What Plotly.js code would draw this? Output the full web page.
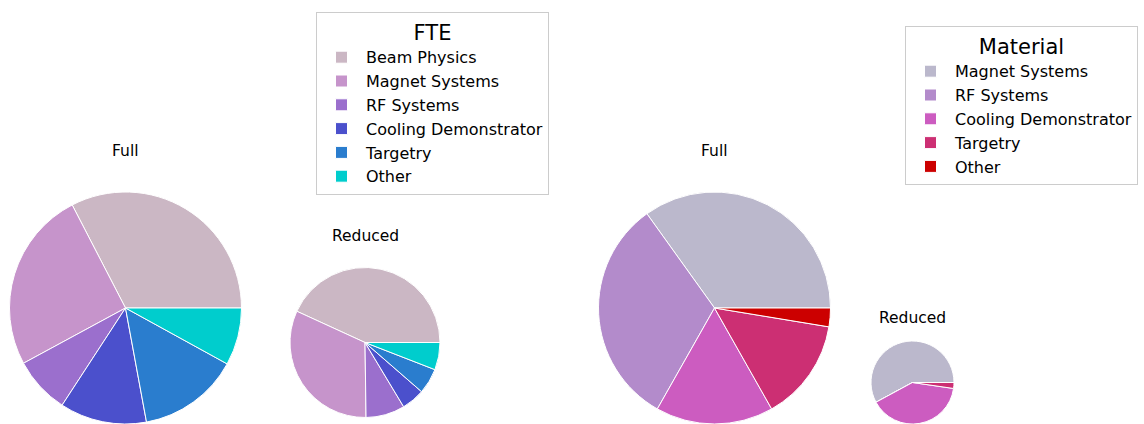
<!DOCTYPE html>
<html>
<head>
<meta charset="utf-8">
<script src="https://cdn.plot.ly/plotly-3.0.1.min.js"></script>
<style>
html,body{margin:0;padding:0;background:#fff;}
#wrap{position:relative;width:1144px;height:424px;overflow:hidden;}
#fte{position:absolute;left:0;top:0;width:580px;height:424px;}
#mat{position:absolute;left:580px;top:0;width:564px;height:424px;}
</style>
</head>
<body>
<div id="wrap"><div id="fte"></div><div id="mat"></div></div>
<script>
// ---- data ----
const fteLabels = ["Beam Physics", "Magnet Systems", "RF Systems", "Cooling Demonstrator", "Targetry", "Other"];
const fteFull = [32.6, 25.3, 7.9, 12.1, 14.1, 8.0];
const fteReduced = [43.2, 32.1, 8.4, 5.0, 5.5, 5.9];
const fteColors = ["#cbb7c4", "#c694cb", "#9b6fcd", "#4b50cc", "#2a7dce", "#00cdcd"];

const matLabels = ["Magnet Systems", "RF Systems", "Cooling Demonstrator", "Targetry", "Other"];
const matFull = [34.9, 31.9, 16.4, 14.2, 2.6];
const matReduced = [57.9, 0, 39.8, 2.3, 0];
const matColors = ["#bbb8cc", "#b38bcb", "#cc5cc0", "#cc2f73", "#cc0000"];

const pieTitles = ["Full", "Reduced"];
const legendTitles = ["FTE", "Material"];

// ---- layout helpers ----
const H = 424;
const FONT = "DejaVu Sans, Verdana, sans-serif";

function dom(W, cx, cy, r) {
  return {x: [(cx - r) / W, (cx + r) / W], y: [Math.max(0, (H - cy - r) / H), Math.min(1, (H - cy + r) / H)]};
}

// matplotlib-style: first wedge starts at 3 o'clock and wedges run counterclockwise
function startRotation(values) {
  const total = values.reduce((a, b) => a + b, 0);
  return 90 - 360 * values[0] / total;
}

function pie(labels, values, colors, domain) {
  return {
    type: "pie", labels: labels, values: values, sort: false,
    direction: "counterclockwise", rotation: startRotation(values),
    textinfo: "none", hoverinfo: "label+percent",
    marker: {colors: colors, line: {color: "#ffffff", width: 1}},
    domain: domain, showlegend: true
  };
}

function titles(W, pos) {
  return pieTitles.map((t, i) => ({
    text: t, showarrow: false, xref: "paper", yref: "paper",
    x: pos[i][0] / W, y: 1 - pos[i][1] / H, xanchor: "center", yanchor: "middle",
    font: {family: FONT, size: 15.5, color: "#000000"}
  }));
}

function legendBox(W, title, left, top) {
  return {
    title: {text: title, side: "top center", font: {family: FONT, size: 21, color: "#000"}},
    x: left / W, y: 1 - top / H, xanchor: "left", yanchor: "top",
    bgcolor: "rgba(255,255,255,0.8)", bordercolor: "#cccccc", borderwidth: 1,
    font: {family: FONT, size: 16, color: "#000"}, itemwidth: 39, traceorder: "normal",
    itemclick: false, itemdoubleclick: false
  };
}

function baseLayout(W, ann, legend) {
  return {
    width: W, height: H,
    margin: {l: 0, r: 0, t: 0, b: 0, pad: 0},
    paper_bgcolor: "#ffffff", plot_bgcolor: "#ffffff",
    font: {family: FONT, size: 16, color: "#000"},
    showlegend: true,
    annotations: ann, legend: legend
  };
}

const WA = 580, WB = 564;
const cfg = {displayModeBar: false, staticPlot: true};

Plotly.newPlot("fte", [
  pie(fteLabels, fteFull, fteColors, dom(WA, 125.5, 308, 116)),
  pie(fteLabels, fteReduced, fteColors, dom(WA, 365, 342.5, 75))
], baseLayout(WA, titles(WA, [[125.5, 151], [365, 236.5]]), legendBox(WA, legendTitles[0], 316, 12)), cfg);

Plotly.newPlot("mat", [
  pie(matLabels, matFull, matColors, dom(WB, 134.5, 308, 116)),
  pie(matLabels, matReduced, matColors, dom(WB, 332.5, 382.5, 41.5))
], baseLayout(WB, titles(WB, [[134.5, 151], [332.5, 318]]), legendBox(WB, legendTitles[1], 325, 26)), cfg);
</script>
</body>
</html>
